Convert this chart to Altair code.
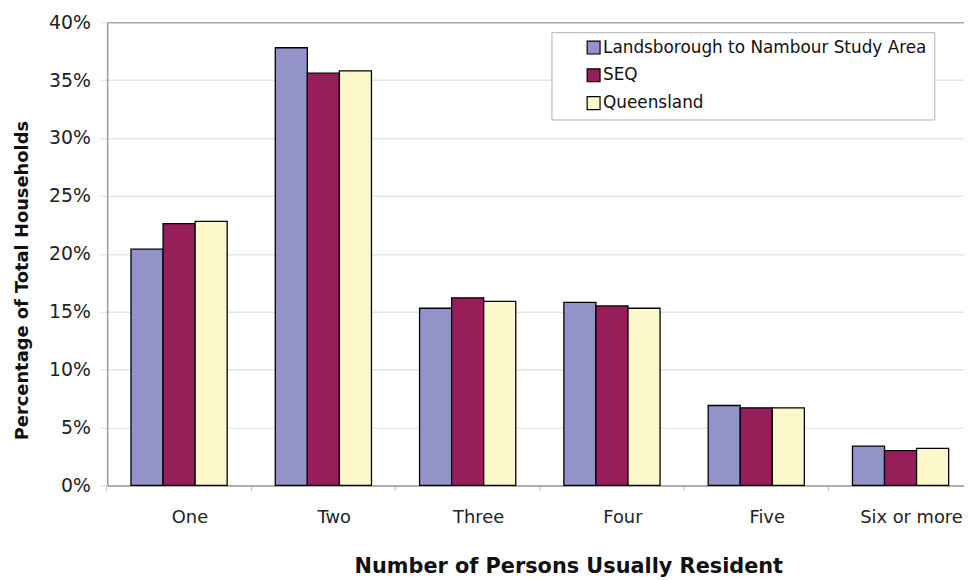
import altair as alt
import pandas as pd

categories = ["One", "Two", "Three", "Four", "Five", "Six or more"]
series_names = ["Landsborough to Nambour Study Area", "SEQ", "Queensland"]
study_area = [20.4, 37.8, 15.3, 15.8, 6.9, 3.4]
seq = [22.6, 35.6, 16.2, 15.5, 6.7, 3.0]
queensland = [22.8, 35.8, 15.9, 15.3, 6.7, 3.2]
colors = ["#9393C9", "#981E5A", "#FCF8CC"]

rows = []
for name, vals in zip(series_names, [study_area, seq, queensland]):
    for c, v in zip(categories, vals):
        rows.append({"cat": c, "series": name, "value": v / 100.0})
df = pd.DataFrame(rows)

FONT = "DejaVu Sans"

chart = alt.Chart(df).mark_bar(stroke="black", strokeWidth=1.3).encode(
    x=alt.X(
        "cat:N",
        sort=categories,
        scale=alt.Scale(paddingInner=1 / 3, paddingOuter=0.1357, align=0.608),
        axis=alt.Axis(
            title="Number of Persons Usually Resident",
            titleFont=FONT, titleFontSize=21, titleFontWeight="bold", titleColor="#111",
            titleX=465, titleY=88, titleAlign="center", titleBaseline="alphabetic",
            labelFont=FONT, labelFontSize=18, labelColor="#222", labelAngle=0,
            labelPadding=18, labelOffset=11,
            bandPosition=-0.25, tickSize=5, tickColor="#bbb",
            domainColor="#999", domainWidth=1.5,
        ),
    ),
    xOffset=alt.XOffset("series:N", sort=series_names),
    y=alt.Y(
        "value:Q",
        scale=alt.Scale(domain=[0, 0.4], nice=False),
        axis=alt.Axis(
            title="Percentage of Total Households",
            titleFont=FONT, titleFontSize=18, titleFontWeight="bold", titleColor="#111",
            titleAngle=270, titleX=-80, titleY=260, titleAlign="center", titleBaseline="alphabetic",
            labelFont=FONT, labelFontSize=19, labelColor="#222",
            format=".0%", values=[0, 0.05, 0.1, 0.15, 0.2, 0.25, 0.3, 0.35, 0.4],
            tickSize=7, tickColor="#ddd", labelPadding=10,
            domainColor="#999", domainWidth=1.5,
            grid=True, gridWidth=1.5,
            gridColor=alt.condition("datum.value >= 0.399", alt.value("#a8a8a8"), alt.value("#e6e6e6")),
        ),
    ),
    color=alt.Color(
        "series:N",
        sort=series_names,
        scale=alt.Scale(domain=series_names, range=colors),
        legend=alt.Legend(
            title=None, orient="none", legendX=448, legendY=10,
            fillColor="white", strokeColor="#b0b0b0", padding=7,
            symbolType="square", symbolSize=169, symbolStrokeColor="black", symbolStrokeWidth=1.2,
            symbolOffset=27, labelOffset=1,
            labelFont=FONT, labelFontSize=17, labelColor="#111", rowPadding=9, labelLimit=500,
        ),
    ),
).properties(
    width=864,
    height=467,
    autosize=alt.AutoSizeParams(type="none"),
    padding={"left": 100, "top": 12, "right": 0, "bottom": 92},
).configure_view(stroke=None)

chart.save("out.html", embed_options={"renderer": "svg", "actions": False})
